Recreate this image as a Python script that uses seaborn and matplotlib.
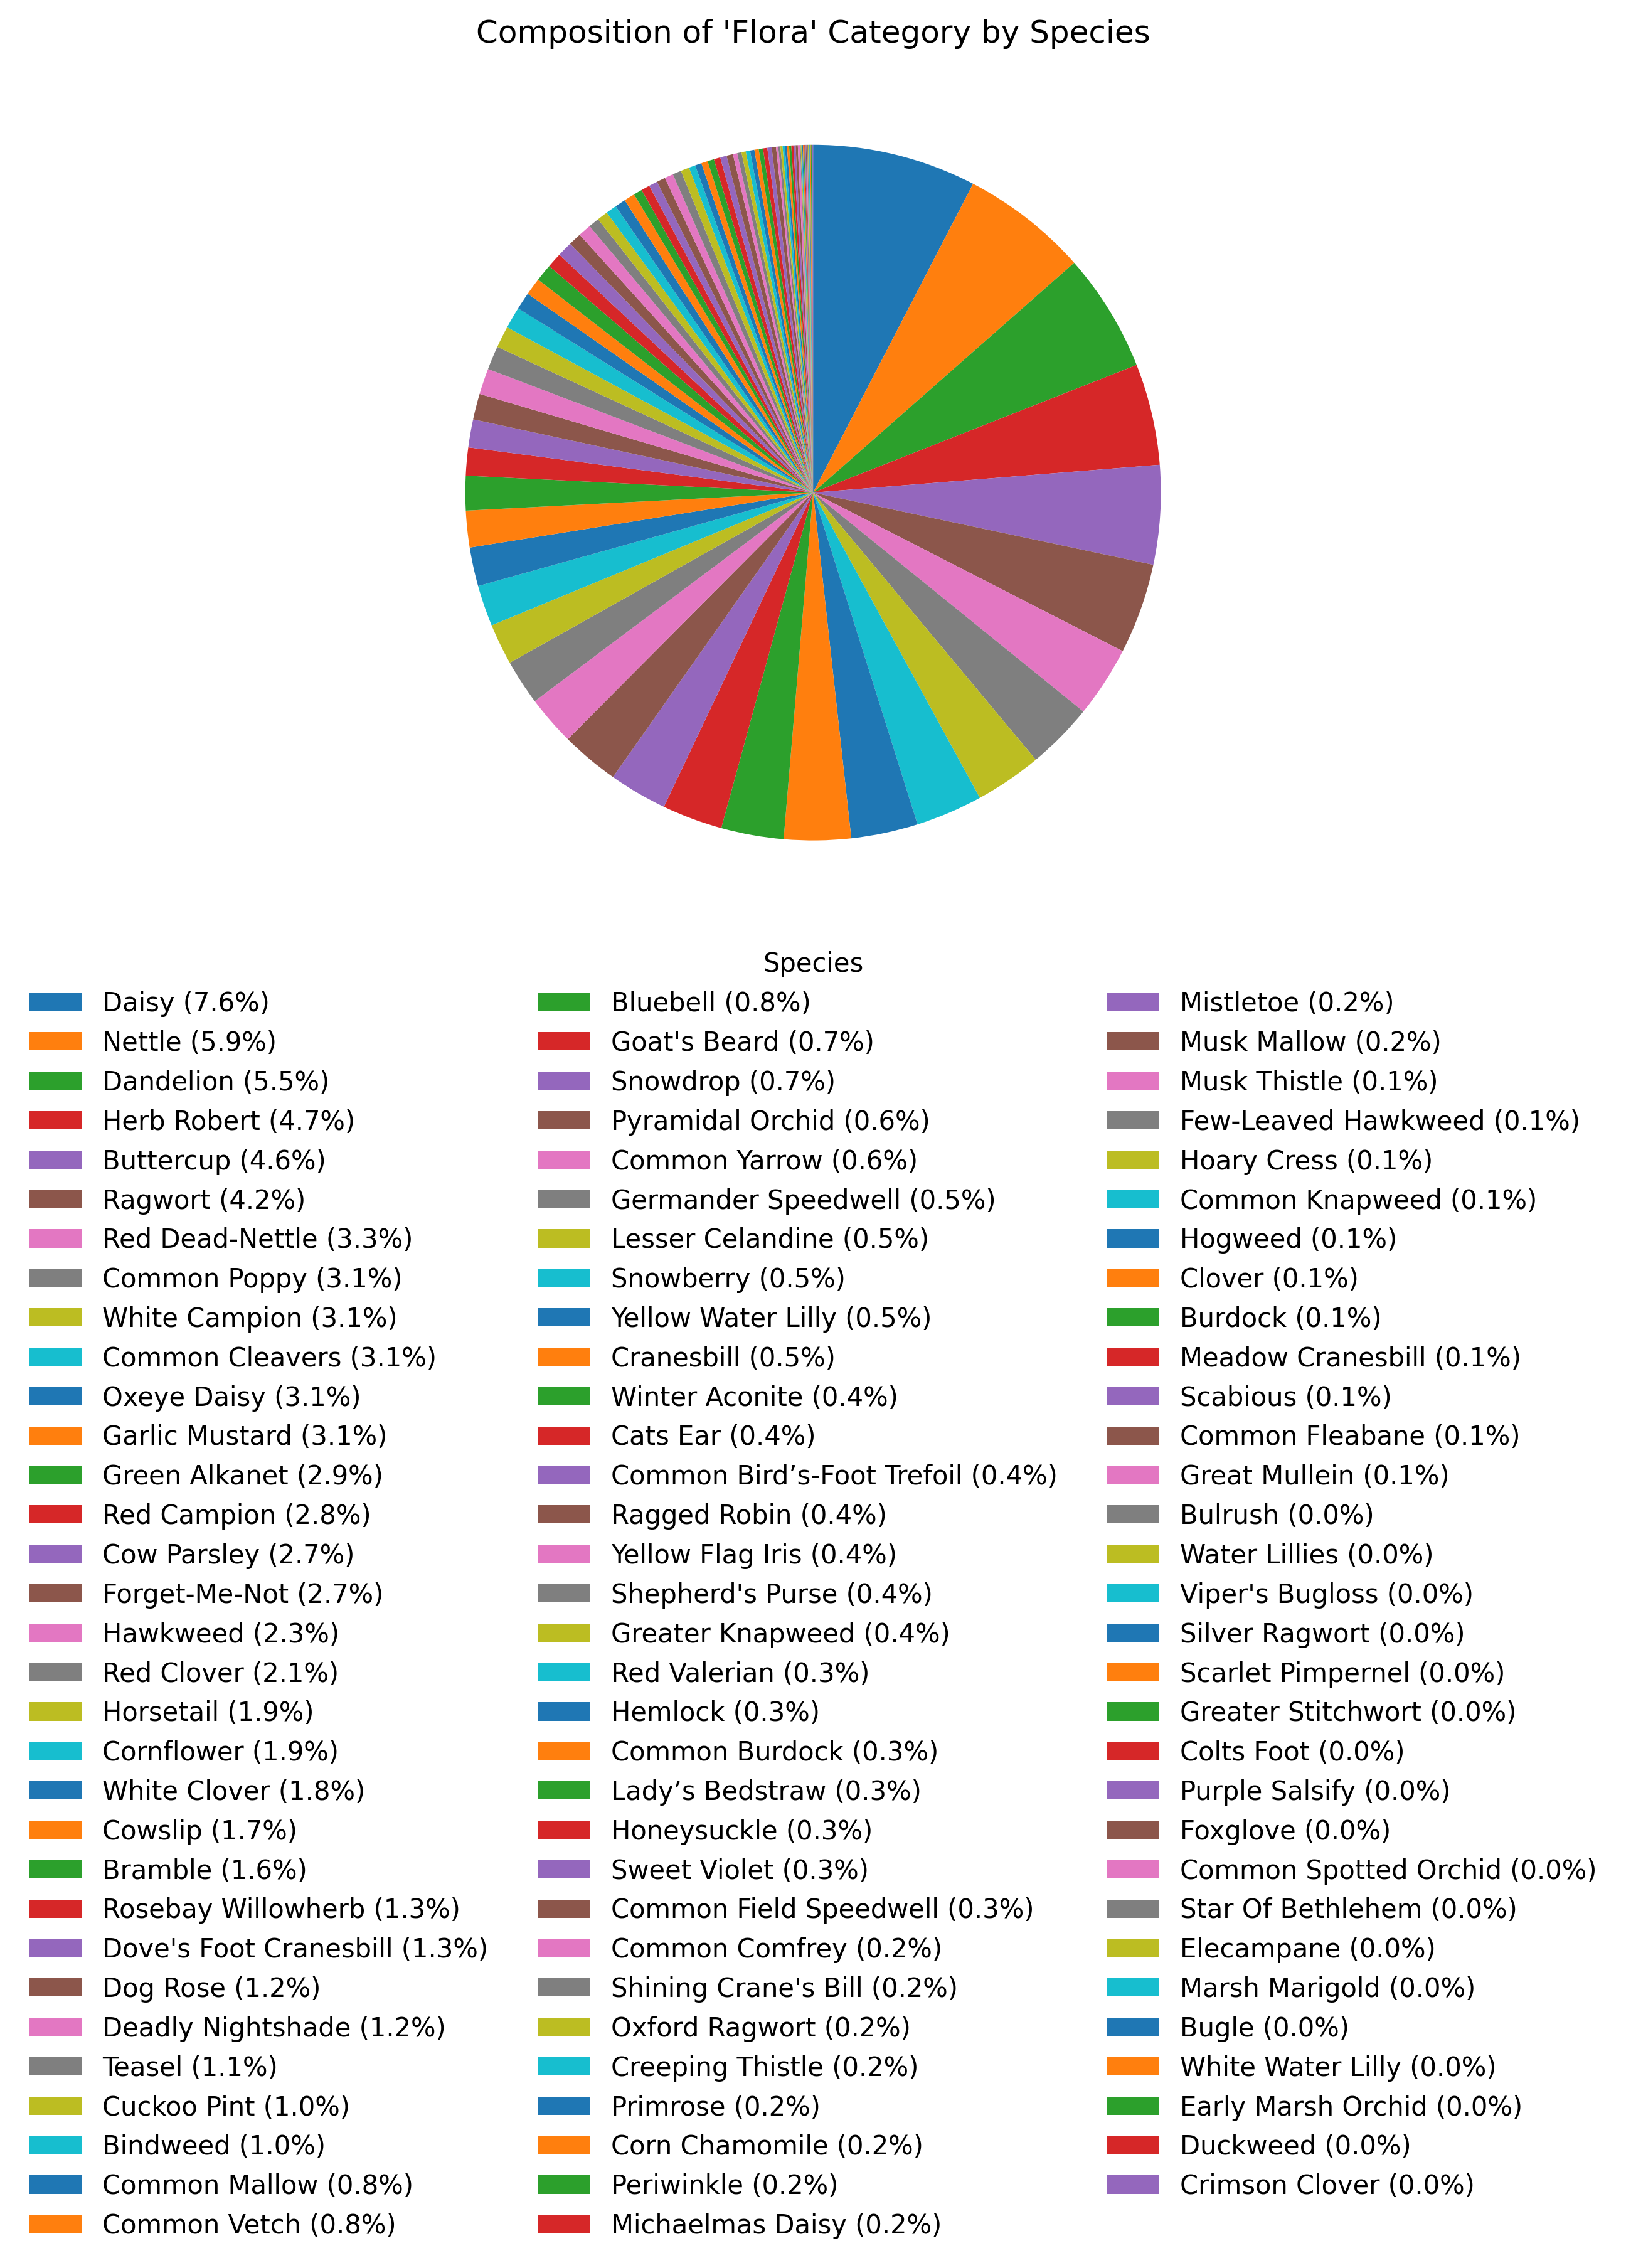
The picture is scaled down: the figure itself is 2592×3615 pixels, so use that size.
import matplotlib
matplotlib.use('Agg')
import matplotlib.pyplot as plt
import seaborn as sns

# species in descending order of count
species = [
    'Daisy', 'Nettle', 'Dandelion', 'Herb Robert', 'Buttercup', 'Ragwort',
    'Red Dead-Nettle', 'Common Poppy', 'White Campion', 'Common Cleavers',
    'Oxeye Daisy', 'Garlic Mustard', 'Green Alkanet', 'Red Campion',
    'Cow Parsley', 'Forget-Me-Not', 'Hawkweed', 'Red Clover', 'Horsetail',
    'Cornflower', 'White Clover', 'Cowslip', 'Bramble', 'Rosebay Willowherb',
    "Dove's Foot Cranesbill", 'Dog Rose', 'Deadly Nightshade', 'Teasel',
    'Cuckoo Pint', 'Bindweed', 'Common Mallow', 'Common Vetch',
    'Bluebell', "Goat's Beard", 'Snowdrop', 'Pyramidal Orchid', 'Common Yarrow',
    'Germander Speedwell', 'Lesser Celandine', 'Snowberry', 'Yellow Water Lilly',
    'Cranesbill', 'Winter Aconite', 'Cats Ear', 'Common Bird\u2019s-Foot Trefoil',
    'Ragged Robin', 'Yellow Flag Iris', "Shepherd's Purse", 'Greater Knapweed',
    'Red Valerian', 'Hemlock', 'Common Burdock', 'Lady\u2019s Bedstraw',
    'Honeysuckle', 'Sweet Violet', 'Common Field Speedwell', 'Common Comfrey',
    "Shining Crane's Bill", 'Oxford Ragwort', 'Creeping Thistle', 'Primrose',
    'Corn Chamomile', 'Periwinkle', 'Michaelmas Daisy',
    'Mistletoe', 'Musk Mallow', 'Musk Thistle', 'Few-Leaved Hawkweed',
    'Hoary Cress', 'Common Knapweed', 'Hogweed', 'Clover', 'Burdock',
    'Meadow Cranesbill', 'Scabious', 'Common Fleabane', 'Great Mullein',
    'Bulrush', 'Water Lillies', "Viper's Bugloss", 'Silver Ragwort',
    'Scarlet Pimpernel', 'Greater Stitchwort', 'Colts Foot', 'Purple Salsify',
    'Foxglove', 'Common Spotted Orchid', 'Star Of Bethlehem', 'Elecampane',
    'Marsh Marigold', 'Bugle', 'White Water Lilly', 'Early Marsh Orchid',
    'Duckweed', 'Crimson Clover',
]

# record counts per species (estimated from the chart's percentages)
counts = [
    228, 177, 165, 141, 138, 126, 99, 93, 93, 93, 93, 93, 87, 84, 81, 81,
    69, 63, 57, 57, 54, 51, 48, 39, 39, 36, 36, 33, 30, 30, 24, 24,
    24, 21, 21, 18, 18, 15, 15, 15, 15, 15, 12, 12, 12, 12, 12, 12, 12,
    9, 9, 9, 9, 9, 9, 9, 6, 6, 6, 6, 6, 6, 6, 6,
    6, 6, 3, 3, 3, 3, 3, 3, 3, 3, 3, 3, 3,
    1, 1, 1, 1, 1, 1, 1, 1, 1, 1, 1, 1, 1, 1, 1, 1, 1, 1,
]

total = sum(counts)
labels = [f'{s} ({c / total * 100:.1f}%)' for s, c in zip(species, counts)]
colors = sns.color_palette('tab10', len(species))

fig, ax = plt.subplots(figsize=(8, 6))
wedges, _ = ax.pie(counts, colors=colors, startangle=90, counterclock=False)
ax.set_title("Composition of 'Flora' Category by Species")
ax.legend(wedges, labels, title='Species', loc='upper center',
          bbox_to_anchor=(0.5, 0), ncol=3, frameon=False, columnspacing=1.89)

plt.savefig('out.png', dpi=300, bbox_inches='tight')
